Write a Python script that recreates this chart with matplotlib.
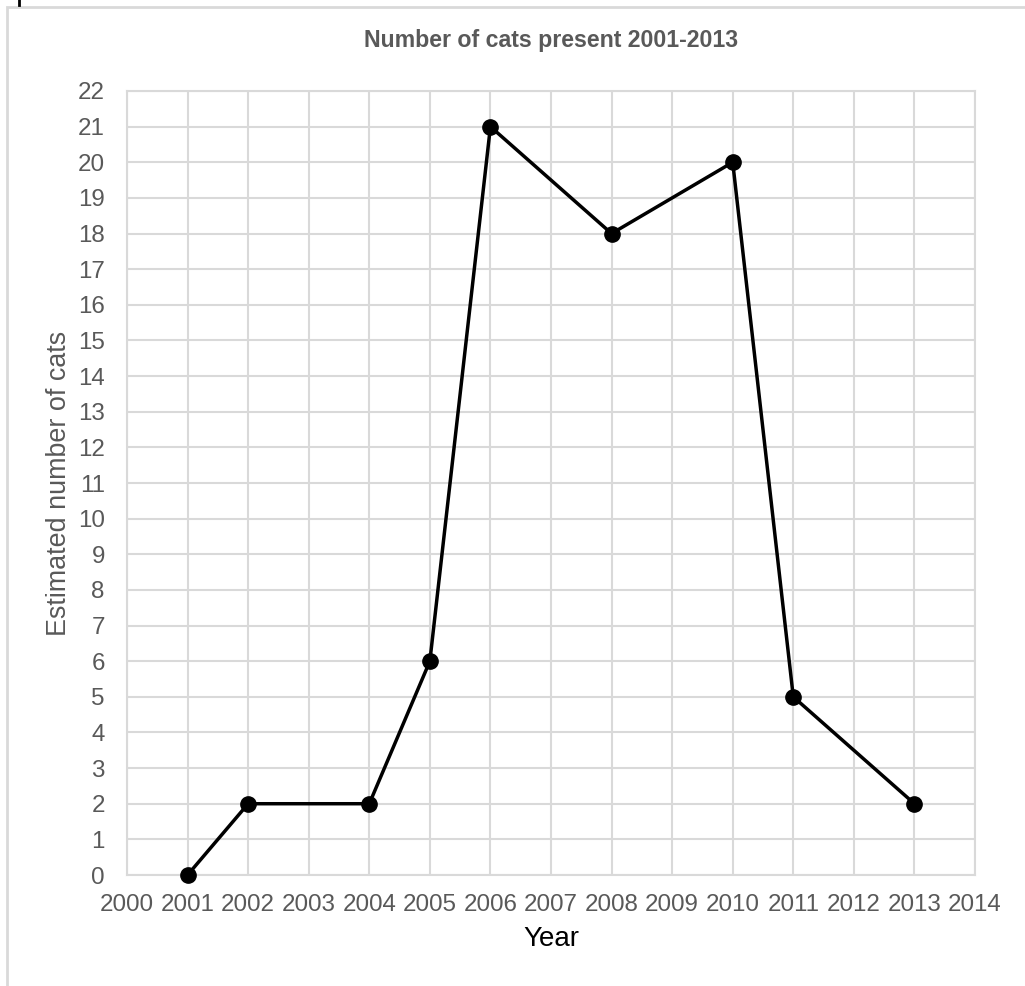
import matplotlib
matplotlib.use("Agg")
import matplotlib.pyplot as plt
from matplotlib.patches import Rectangle
from matplotlib.lines import Line2D

# data
years = [2001, 2002, 2004, 2005, 2006, 2008, 2010, 2011, 2013]
cats = [0, 2, 2, 6, 21, 18, 20, 5, 2]
xticks = list(range(2000, 2015))
yticks = list(range(0, 23))

plt.rcParams['font.family'] = ['Liberation Sans', 'DejaVu Sans']
grey = '#595959'

fig = plt.figure(figsize=(10.25, 9.86), dpi=100)
ax = fig.add_axes([127/1025, 1 - 875/986, 848/1025, 784/986])

ax.plot(years, cats, color='black', lw=2.5, marker='o', ms=11, zorder=3, clip_on=False)

ax.set_xlim(2000, 2014)
ax.set_ylim(0, 22)
ax.set_xticks(xticks)
ax.set_yticks(yticks)
ax.tick_params(length=0, labelsize=17.4, labelcolor=grey)
ax.tick_params(axis='x', pad=14)
ax.tick_params(axis='y', pad=16)
ax.grid(True, color='#d9d9d9', lw=1.5)
ax.set_axisbelow(True)
for s in ax.spines.values():
    s.set_color('#d9d9d9')
    s.set_linewidth(1.5)

ax.set_xlabel('Year', fontsize=20, color='black', labelpad=7)
ax.set_ylabel('Estimated number of cats', fontsize=19.4, color=grey, labelpad=4)
fig.text(0.5 * (127 + 975) / 1025, 1 - 40/986, 'Number of cats present 2001-2013',
         ha='center', va='center', fontsize=16.7, fontweight='bold', color=grey)

# chart frame and small mark at top-left
fig.patches.append(Rectangle((7/1025, -0.1), 1.2, 1 - 7/986 + 0.1, transform=fig.transFigure,
                             fill=False, ec='#d9d9d9', lw=2))
fig.lines.append(Line2D([19/1025, 19/1025], [1, 1 - 5/986], transform=fig.transFigure,
                        color='black', lw=2))

fig.savefig('out.png', dpi=100)
